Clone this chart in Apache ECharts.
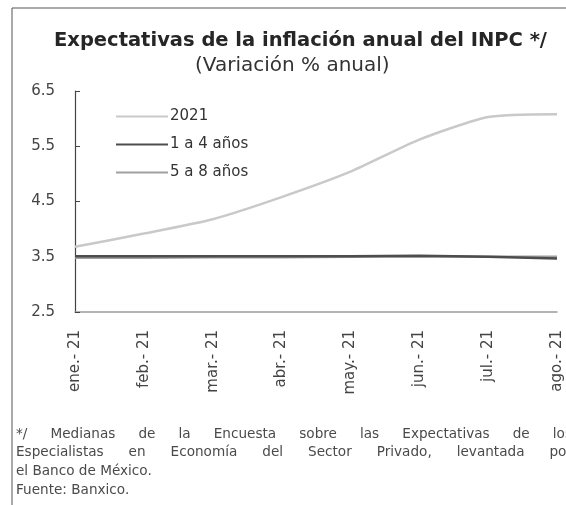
<!DOCTYPE html>
<html><head><meta charset="utf-8">
<script src="https://cdn.jsdelivr.net/npm/echarts@6/dist/echarts.min.js"></script>
<style>html,body{margin:0;padding:0;background:#fff;}#c{width:566px;height:505px;}</style>
</head><body><div id="c"></div>
<script>
const months = ['ene.- 21','feb.- 21','mar.- 21','abr.- 21','may.- 21','jun.- 21','jul.- 21','ago.- 21'];
const s2021 = [3.68, 3.92, 4.18, 4.58, 5.04, 5.62, 6.03, 6.08];
const s1a4 = [3.51, 3.51, 3.51, 3.51, 3.51, 3.52, 3.50, 3.47];
const s5a8 = [3.48, 3.48, 3.49, 3.49, 3.50, 3.51, 3.50, 3.50];
const yTicks = [2.5, 3.5, 4.5, 5.5, 6.5];
const seriesNames = ['2021', '1 a 4 años', '5 a 8 años'];
const titleText = 'Expectativas de la inflación anual del INPC */';
const subtitleText = '(Variación % anual)';
const noteLines = [
  {text: '*/ Medianas de la Encuesta sobre las Expectativas de los', justify: true},
  {text: 'Especialistas en Economía del Sector Privado, levantada por', justify: true},
  {text: 'el Banco de México.', justify: false},
  {text: 'Fuente: Banxico.', justify: false}
];

const FONT = '"DejaVu Sans", sans-serif';
const chart = echarts.init(document.getElementById('c'), null, {renderer: 'canvas'});

const mc = document.createElement('canvas').getContext('2d');
function buildNotes() {
  const els = [];
  const fs = 13.6;
  mc.font = fs + 'px ' + FONT;
  const left = 16, right = 572;
  noteLines.forEach((ln, i) => {
    const y = 435 + i * 18.8;
    if (!ln.justify) {
      els.push({type: 'text', left: left, top: y - 8, style: {text: ln.text, font: fs + 'px ' + FONT, fill: '#4a4a4a'}});
      return;
    }
    const words = ln.text.split(' ');
    const widths = words.map(w => mc.measureText(w).width);
    const total = widths.reduce((a, b) => a + b, 0);
    const gap = (right - left - total) / (words.length - 1);
    let x = left;
    words.forEach((w, k) => {
      els.push({type: 'text', left: x, top: y - 8, style: {text: w, font: fs + 'px ' + FONT, fill: '#4a4a4a'}});
      x += widths[k] + gap;
    });
  });
  return els;
}

const option = {
  backgroundColor: '#fff',
  animation: false,
  title: [
    {text: titleText, left: 49, top: 26, textStyle: {fontFamily: FONT, fontWeight: 'bold', fontSize: 19.5, color: '#262626'}},
    {text: subtitleText, left: 190, top: 51, textStyle: {fontFamily: FONT, fontWeight: 'normal', fontSize: 20, color: '#333'}}
  ],
  legend: {
    orient: 'vertical', left: 111, top: 104, itemWidth: 52, itemHeight: 14, itemGap: 13,
    icon: 'path://M0,6H52V8H0Z',
    textStyle: {fontFamily: FONT, fontSize: 15, color: '#333', padding: [0, 0, 0, -3]},
    data: seriesNames
  },
  grid: {left: 75, right: 9, top: 91, bottom: 193},
  xAxis: {
    type: 'category', data: months, boundaryGap: false,
    axisLine: {lineStyle: {color: '#9a9a9a', width: 1.5}},
    axisTick: {show: false},
    axisLabel: {rotate: 90, margin: 18, fontFamily: FONT, fontSize: 15, color: '#444', interval: 0}
  },
  yAxis: {
    type: 'value', min: yTicks[0], max: yTicks[yTicks.length - 1], interval: 1,
    axisLine: {show: true, lineStyle: {color: '#444', width: 1.2}},
    axisTick: {show: true, inside: true, length: 5, lineStyle: {color: '#444'}},
    splitLine: {show: false},
    axisLabel: {margin: 20, fontFamily: FONT, fontSize: 15, color: '#444', formatter: v => v.toFixed(1)}
  },
  series: [
    {name: seriesNames[0], type: 'line', data: s2021, symbol: 'none', smooth: 0.2, lineStyle: {color: '#c9c9c9', width: 2.5}, itemStyle: {color: '#c9c9c9'}},
    {name: seriesNames[1], type: 'line', data: s1a4, symbol: 'none', lineStyle: {color: '#4d4d4d', width: 2.5}, itemStyle: {color: '#4d4d4d'}, z: 3},
    {name: seriesNames[2], type: 'line', data: s5a8, symbol: 'none', lineStyle: {color: '#a0a0a0', width: 2.5}, itemStyle: {color: '#a0a0a0'}, z: 2}
  ],
  graphic: [
    {type: 'line', shape: {x1: 12, y1: 8, x2: 566, y2: 8}, style: {stroke: '#555', lineWidth: 1}},
    {type: 'line', shape: {x1: 12, y1: 8, x2: 12, y2: 505}, style: {stroke: '#555', lineWidth: 1}}
  ].concat(buildNotes())
};
chart.setOption(option);
</script></body></html>
